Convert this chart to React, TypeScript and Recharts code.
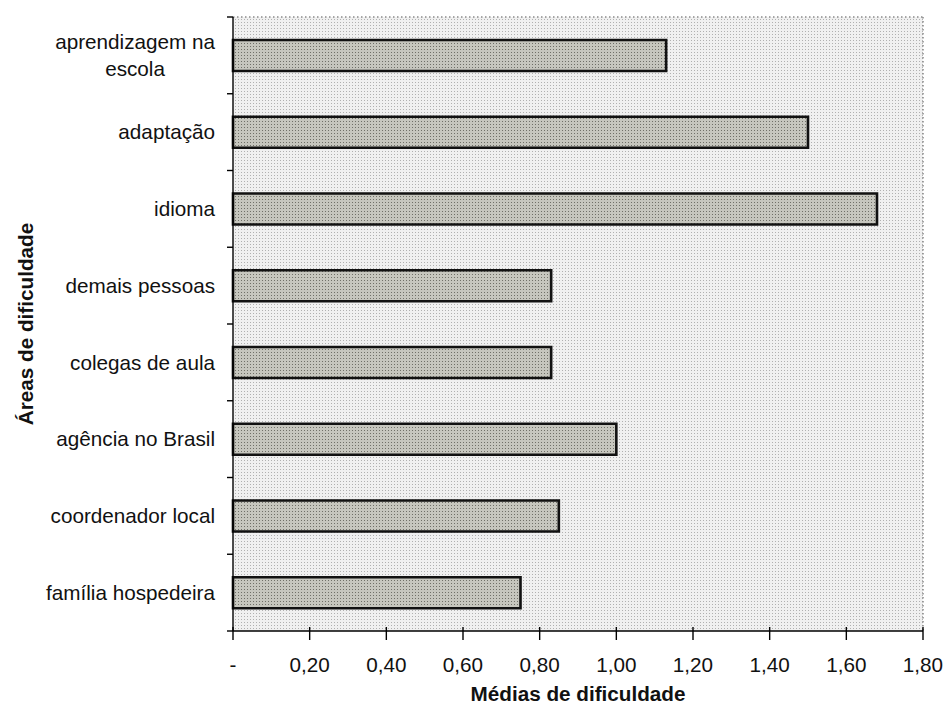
import React from 'react';
import { BarChart, Bar, XAxis, YAxis, CartesianGrid } from 'recharts';

// Difficulty areas (top to bottom) and their mean difficulty scores
const categories = [
  'aprendizagem na escola',
  'adaptação',
  'idioma',
  'demais pessoas',
  'colegas de aula',
  'agência no Brasil',
  'coordenador local',
  'família hospedeira',
];
const means = [1.13, 1.5, 1.68, 0.83, 0.83, 1.0, 0.85, 0.75];
const xTicks = [0, 0.2, 0.4, 0.6, 0.8, 1.0, 1.2, 1.4, 1.6, 1.8];
const xTitle = 'Médias de dificuldade';
const yTitle = 'Áreas de dificuldade';

const data = categories.map((area, i) => ({ area, mean: means[i] }));

const FONT = '"Liberation Sans", Arial, Helvetica, sans-serif';
const FONT_SIZE = 20.7;
const TEXT = '#111';
const Y_TICK_SIZE = 6;
const Y_TICK_MARGIN = 12;
const X_TICK_SIZE = 9;
const X_TICK_MARGIN = 17;
const LABEL_MAX_WIDTH = 185;
const LINE_HEIGHT = 27;

let measureCtx: CanvasRenderingContext2D | null = null;
function textWidth(s: string): number {
  if (!measureCtx) measureCtx = document.createElement('canvas').getContext('2d');
  if (!measureCtx) return s.length * FONT_SIZE * 0.52;
  measureCtx.font = `${FONT_SIZE}px ${FONT}`;
  return measureCtx.measureText(s).width;
}

function wrapWords(s: string): string[] {
  const words = s.split(' ');
  const lines: string[] = [];
  let cur = '';
  for (const w of words) {
    const next = cur ? cur + ' ' + w : w;
    if (cur && textWidth(next) > LABEL_MAX_WIDTH) {
      lines.push(cur);
      cur = w;
    } else {
      cur = next;
    }
  }
  if (cur) lines.push(cur);
  return lines;
}

const formatTick = (v: number) => (v === 0 ? '-' : v.toFixed(2).replace('.', ','));

// Category label, right aligned; wrapped lines are centred under the first line.
// Tick marks sit on the band boundaries rather than the band centres.
function CategoryTick(props: any) {
  const { x, y, payload, index, visibleTicksCount } = props;
  const half = typeof payload?.offset === 'number' && payload.offset > 0 ? payload.offset : 38.4;
  const axisX = x + Y_TICK_MARGIN + Y_TICK_SIZE;
  const lines = wrapWords(String(payload.value));
  const firstW = textWidth(lines[0]);
  const isLast = index === (visibleTicksCount ?? categories.length) - 1;
  return (
    <g>
      <line x1={axisX - Y_TICK_SIZE} x2={axisX} y1={y - half} y2={y - half} stroke="#000" strokeWidth={1.4} />
      {isLast && (
        <line x1={axisX - Y_TICK_SIZE} x2={axisX} y1={y + half} y2={y + half} stroke="#000" strokeWidth={1.4} />
      )}
      {lines.map((ln, i) => (
        <text
          key={i}
          x={i === 0 ? x : x - firstW / 2}
          y={y + (i - (lines.length - 1) / 2) * LINE_HEIGHT}
          dy="0.355em"
          textAnchor={i === 0 ? 'end' : 'middle'}
          fontFamily={FONT}
          fontSize={FONT_SIZE}
          fill={TEXT}
        >
          {ln}
        </text>
      ))}
    </g>
  );
}

// Value tick: a short mark crossing the axis line plus the formatted value.
function ValueTick(props: any) {
  const { x, y, payload } = props;
  const axisY = y - X_TICK_MARGIN - X_TICK_SIZE;
  return (
    <g>
      <line x1={x} x2={x} y1={axisY - 4} y2={axisY + X_TICK_SIZE} stroke="#000" strokeWidth={1.4} />
      <text x={x} y={y} dy="0.71em" textAnchor="middle" fontFamily={FONT} fontSize={FONT_SIZE} fill={TEXT}>
        {formatTick(payload.value)}
      </text>
    </g>
  );
}

function XTitle(props: any) {
  const vb = props.viewBox || {};
  return (
    <text
      x={vb.x + vb.width / 2}
      y={vb.y + vb.height - 6}
      textAnchor="middle"
      fontFamily={FONT}
      fontSize={FONT_SIZE}
      fontWeight="bold"
      fill={TEXT}
    >
      {xTitle}
    </text>
  );
}

function YTitle(props: any) {
  const vb = props.viewBox || {};
  const cx = vb.x + 33;
  const cy = vb.y + vb.height / 2;
  return (
    <text
      x={cx}
      y={cy}
      transform={`rotate(-90, ${cx}, ${cy})`}
      textAnchor="middle"
      fontFamily={FONT}
      fontSize={FONT_SIZE}
      fontWeight="bold"
      fill={TEXT}
    >
      {yTitle}
    </text>
  );
}

export default function App() {
  return (
    <div style={{ position: 'absolute', left: 0, top: 0, width: 947, height: 707, background: '#fff' }}>
      <BarChart
        width={947}
        height={707}
        data={data}
        layout="vertical"
        margin={{ top: 17, right: 24, bottom: 0, left: 0 }}
      >
        <defs>
          <pattern id="plotDots" width="3" height="3" patternUnits="userSpaceOnUse">
            <rect width="3" height="3" fill="#f0f0f0" />
            <rect x="1" y="1" width="1" height="1" fill="#b0b0b0" />
          </pattern>
          <pattern id="barDots" width="3" height="3" patternUnits="userSpaceOnUse">
            <rect width="3" height="3" fill="#c6c6be" />
            <rect x="1" y="1" width="1" height="1" fill="#707068" />
          </pattern>
        </defs>
        <CartesianGrid
          fill="url(#plotDots)"
          stroke="#8a8a8a"
          strokeWidth={1.5}
          strokeDasharray="1.5 2.5"
          horizontalCoordinatesGenerator={({ offset }: any) => [offset.top]}
          verticalCoordinatesGenerator={({ offset }: any) => [offset.left + offset.width]}
        />
        <XAxis
          type="number"
          dataKey="mean"
          domain={[0, 1.8]}
          ticks={xTicks}
          interval={0}
          height={76}
          tickSize={X_TICK_SIZE}
          tickMargin={X_TICK_MARGIN}
          tickLine={false}
          axisLine={{ stroke: '#000', strokeWidth: 1.4 }}
          tick={<ValueTick />}
          label={{ content: <XTitle /> }}
        />
        <YAxis
          type="category"
          dataKey="area"
          width={233}
          interval={0}
          tickSize={Y_TICK_SIZE}
          tickMargin={Y_TICK_MARGIN}
          tickLine={false}
          axisLine={{ stroke: '#000', strokeWidth: 1.4 }}
          tick={<CategoryTick />}
          label={{ content: <YTitle /> }}
        />
        <Bar
          dataKey="mean"
          fill="url(#barDots)"
          stroke="#111"
          strokeWidth={2.6}
          barSize={31}
          isAnimationActive={false}
        />
      </BarChart>
    </div>
  );
}
